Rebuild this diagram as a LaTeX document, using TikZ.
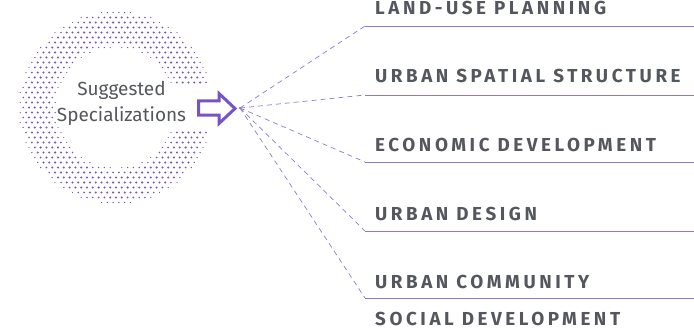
\documentclass[tikz,border=0pt]{standalone}
\usepackage{fontspec}
\setmainfont{Fira Sans}
\newfontfamily\capsfont[LetterSpace=19]{Fira Sans Bold}
\definecolor{ringpurple}{HTML}{7853C4}
\definecolor{linepurple}{HTML}{8F79D4}
\definecolor{textgray}{HTML}{55575E}
\begin{document}
\begin{tikzpicture}[x=1pt, y=-1pt,
  dot/.style={fill=ringpurple},
  topic/.style={anchor=base west, inner sep=0pt, text=textgray, font=\capsfont\fontsize{18.8}{20}\selectfont},
  rule/.style={linepurple, line width=0.8pt},
  spoke/.style={linepurple, line width=0.7pt, dash pattern=on 5pt off 4pt}]
\useasboundingbox (0,0) rectangle (694,329);
% Anillo
\foreach \j in {-20,...,20}{
  \foreach \i in {-17,...,17}{
    \pgfmathsetmacro\px{\i*5.8+isodd(\j)*2.9}
    \pgfmathsetmacro\py{\j*5}
    \pgfmathsetmacro\rr{veclen(\px,\py)}
    \pgfmathtruncatemacro\ok{(\rr>60)*(\rr<97)*(1-(\px>0)*(abs(\py)<22))}
    \ifnum\ok>0
      \pgfmathsetmacro\ds{0.6+0.55*min(1,min(\rr-60,97-\rr)/8)}
      \fill[dot] (116+\px,107.5+\py) circle[radius=\ds pt];
    \fi
  }
}
% Nodos
\node [text=textgray, align=center, font=\fontsize{19}{26}\selectfont] (sugg) at (121.5,103) {Suggested\\Specializations};
\draw [ringpurple, line width=3pt, line join=miter, fill=white]
  (198.5,101) -- (219,101) -- (219,93.5) -- (235,108.5) -- (219,123.5) -- (219,115) -- (198.5,115) -- cycle;
\coordinate (hub) at (240,108);
\fill [ringpurple] (hub) circle[radius=1.2pt];
% Lineas
\foreach \name/\ly in {lu/26, us/95, ed/162, ud/231, uc/298}{
  \coordinate (\name-s) at (365,\ly);
  \coordinate (\name-e) at (694,\ly);
  \draw [spoke] (hub) -- (\name-s);
  \draw [rule] (\name-s) -- (\name-e);
}
% Textos
\node [topic] (lu) at (375,15) {LAND-USE PLANNING};
\node [topic] (us) at (375,83) {URBAN SPATIAL STRUCTURE};
\node [topic] (ed) at (375,151) {ECONOMIC DEVELOPMENT};
\node [topic] (ud) at (375,220) {URBAN DESIGN};
\node [topic] (uc) at (375,288) {URBAN COMMUNITY};
\node [topic] (sd) at (375,325) {SOCIAL DEVELOPMENT};
\end{tikzpicture}
\end{document}
